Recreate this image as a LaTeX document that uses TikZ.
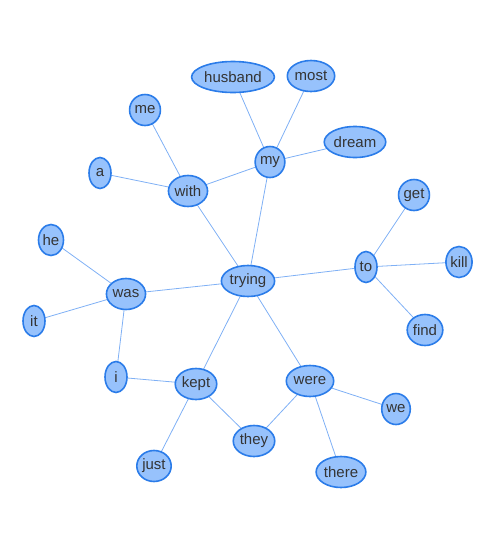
\documentclass[tikz,border=0pt]{standalone}
\usepackage{fontspec}
\setmainfont{Liberation Sans}
\usetikzlibrary{shapes.geometric,backgrounds}
\definecolor{nodefill}{HTML}{97C2FC}
\definecolor{nodeborder}{HTML}{2B7CE9}
\definecolor{edgeblue}{HTML}{7FB0F5}
\definecolor{wordtext}{HTML}{343434}

\begin{document}
\begin{tikzpicture}[
    x=1pt,
    y=-1pt,
    word/.style={
        ellipse,
        draw=nodeborder,
        fill=nodefill,
        line width=1.6pt,
        inner xsep=0.5pt,
        inner ysep=2pt,
        minimum width=22pt,
        minimum height=31pt,
        text=wordtext,
        font=\fontsize{15}{17}\selectfont
    },
    link/.style={draw=edgeblue, line width=0.8pt}
]
\useasboundingbox (0,0) rectangle (500,550);
\node (husband) [word] at (233,77) {husband};
\node (most) [word] at (311,76) {most};
\node (me) [word] at (145,110) {me};
\node (dream) [word] at (355,142) {dream};
\node (my) [word] at (270,162) {my};
\node (a) [word] at (100,173) {a};
\node (with) [word] at (188,191) {with};
\node (get) [word] at (414,195) {get};
\node (he) [word] at (51,240) {he};
\node (to) [word] at (366,267) {to};
\node (kill) [word] at (459,262) {kill};
\node (trying) [word] at (248,281) {trying};
\node (was) [word] at (126,294) {was};
\node (it) [word] at (34,321) {it};
\node (find) [word] at (425,330) {find};
\node (i) [word] at (116,377) {i};
\node (kept) [word] at (196,384) {kept};
\node (were) [word] at (310,381) {were};
\node (we) [word] at (396,409) {we};
\node (they) [word] at (254,441) {they};
\node (just) [word] at (154,466) {just};
\node (there) [word] at (341,472) {there};

\begin{scope}[on background layer]
\draw [link] (husband.center) -- (my.center);
\draw [link] (most.center) -- (my.center);
\draw [link] (dream.center) -- (my.center);
\draw [link] (my.center) -- (with.center);
\draw [link] (my.center) -- (trying.center);
\draw [link] (me.center) -- (with.center);
\draw [link] (a.center) -- (with.center);
\draw [link] (with.center) -- (trying.center);
\draw [link] (trying.center) -- (to.center);
\draw [link] (to.center) -- (get.center);
\draw [link] (to.center) -- (kill.center);
\draw [link] (to.center) -- (find.center);
\draw [link] (trying.center) -- (was.center);
\draw [link] (he.center) -- (was.center);
\draw [link] (it.center) -- (was.center);
\draw [link] (was.center) -- (i.center);
\draw [link] (trying.center) -- (kept.center);
\draw [link] (i.center) -- (kept.center);
\draw [link] (kept.center) -- (they.center);
\draw [link] (kept.center) -- (just.center);
\draw [link] (trying.center) -- (were.center);
\draw [link] (were.center) -- (they.center);
\draw [link] (were.center) -- (we.center);
\draw [link] (were.center) -- (there.center);
\end{scope}
\end{tikzpicture}
\end{document}
